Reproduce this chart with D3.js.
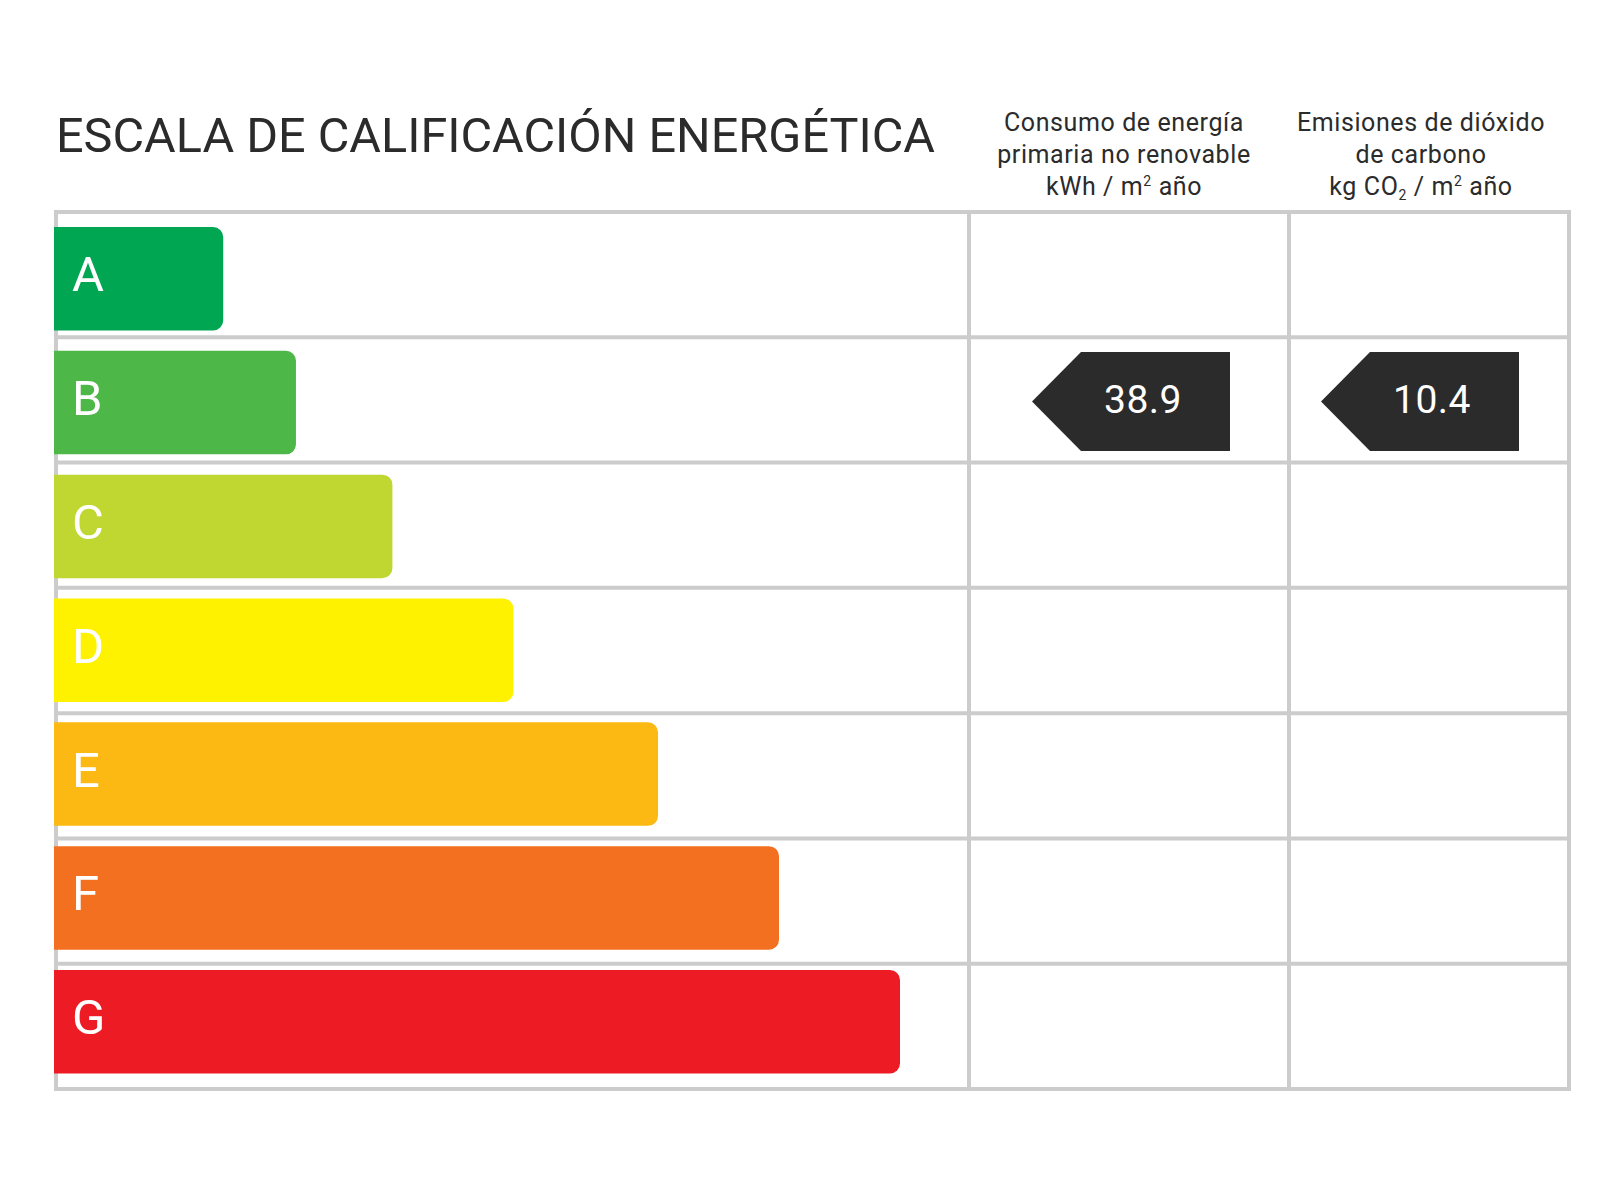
<!DOCTYPE html>
<html>
<head>
<meta charset="utf-8">
<script src="https://cdn.jsdelivr.net/npm/d3@7"></script>
<style>
  body { margin: 0; background: #fff; }
  text { font-family: Roboto, "DejaVu Sans", sans-serif; }
</style>
</head>
<body>
<svg id="chart" width="1600" height="1200"></svg>
<script>
// energy rating scale A..G
const grades = ["A", "B", "C", "D", "E", "F", "G"]
const gradeColors = ["#00a651", "#4db848", "#bfd730", "#fff200", "#fdb913", "#f37021", "#ed1c24"]
// length of each grade bar, in % of the longest one
const barLength = [20, 28.6, 40, 54.3, 71.4, 85.7, 100]

const title = "ESCALA DE CALIFICACIÓN ENERGÉTICA"

// the two indicator columns
const columns = ["consumo", "emisiones"]
// header lines, each line a list of [text, kind]
const columnHeaders = [
  [
    [["Consumo de energía", ""]],
    [["primaria no renovable", ""]],
    [["kWh / m", ""], ["2", "sup"], [" año", ""]]
  ],
  [
    [["Emisiones de dióxido", ""]],
    [["de carbono", ""]],
    [["kg CO", ""], ["2", "sub"], [" / m", ""], ["2", "sup"], [" año", ""]]
  ]
]
const ratingGrade = ["B", "B"]
const ratingValue = ["38.9", "10.4"]

const ink = "#2b2b2b",
  gridColor = "#cccccc"

const svg = d3.select("#chart")

// scales
const x = d3.scaleLinear().domain([0, 100]).range([54, 900])
const rows = d3.scaleBand().domain(grades).range([212, 1089])
const bars = d3.scaleBand().domain(grades).range([227, 1073.5]).paddingInner(0.164)
const arrowX = d3.scaleOrdinal().domain(columns).range([1131, 1420])
const headerX = d3.scaleOrdinal().domain(columns).range([1124, 1421])
const colEdges = [56, 969, 1289, 1569]
const barColor = d3.scaleOrdinal().domain(grades).range(gradeColors)

// grid
const hLines = grades.map(g => rows(g)).concat([rows.range()[1]])
svg.append("g")
  .selectAll("line")
  .data(hLines).enter()
  .append("line")
  .attr("x1", colEdges[0]).attr("x2", colEdges[3])
  .attr("y1", d => d).attr("y2", d => d)
  .attr("stroke", gridColor).attr("stroke-width", 4)
  .attr("stroke-linecap", "square")

svg.append("g")
  .selectAll("line")
  .data(colEdges).enter()
  .append("line")
  .attr("x1", d => d).attr("x2", d => d)
  .attr("y1", rows.range()[0]).attr("y2", rows.range()[1])
  .attr("stroke", gridColor).attr("stroke-width", 4)
  .attr("stroke-linecap", "square")

// bars with rounded right side
function barPath(x0, y0, x1, y1, r) {
  return `M${x0},${y0}H${x1 - r}A${r},${r} 0 0 1 ${x1},${y0 + r}V${y1 - r}A${r},${r} 0 0 1 ${x1 - r},${y1}H${x0}Z`
}

const barData = grades.map((g, i) => ({ grade: g, length: barLength[i] }))

svg.append("g")
  .selectAll("path")
  .data(barData).enter()
  .append("path")
  .attr("d", d => barPath(x(0), bars(d.grade), x(d.length), bars(d.grade) + bars.bandwidth(), 10))
  .attr("fill", d => barColor(d.grade))

svg.append("g")
  .selectAll("text")
  .data(barData).enter()
  .append("text")
  .attr("x", 72)
  .attr("y", d => bars(d.grade) + bars.bandwidth() / 2 + 12.5)
  .attr("fill", "#fff")
  .attr("font-size", 49)
  .text(d => d.grade)

// title
svg.append("text")
  .attr("x", 56).attr("y", 152)
  .attr("font-size", 49)
  .attr("fill", ink)
  .attr("textLength", 879)
  .attr("lengthAdjust", "spacingAndGlyphs")
  .text(title)

// column headers
const headerBase = [131, 163, 195]
columns.forEach((c, ci) => {
  columnHeaders[ci].forEach((line, li) => {
    const t = svg.append("text")
      .attr("x", headerX(c)).attr("y", headerBase[li])
      .attr("text-anchor", "middle")
      .attr("font-size", 25)
      .attr("letter-spacing", 0.6)
      .attr("fill", ink)
    line.forEach(part => {
      const s = t.append("tspan").text(part[0])
      if (part[1] == "sup") s.attr("font-size", 14).attr("baseline-shift", "9")
      if (part[1] == "sub") s.attr("font-size", 14).attr("baseline-shift", "-5")
    })
  })
})

// rating arrows
const arrowW = 198, arrowH = 99, tipW = 49
const ratings = columns.map((c, i) => ({ col: c, grade: ratingGrade[i], value: ratingValue[i] }))

const arrows = svg.append("g")
  .selectAll("g")
  .data(ratings).enter()
  .append("g")
  .attr("transform", d => `translate(${arrowX(d.col)},${bars(d.grade) + bars.bandwidth() / 2 - 1})`)

arrows.append("path")
  .attr("d", `M${-arrowW / 2},0L${-arrowW / 2 + tipW},${-arrowH / 2}H${arrowW / 2}V${arrowH / 2}H${-arrowW / 2 + tipW}Z`)
  .attr("fill", ink)

arrows.append("text")
  .attr("x", 12).attr("y", 11)
  .attr("text-anchor", "middle")
  .attr("font-size", 39)
  .attr("letter-spacing", 0.5)
  .attr("fill", "#fff")
  .text(d => d.value)
</script>
</body>
</html>
